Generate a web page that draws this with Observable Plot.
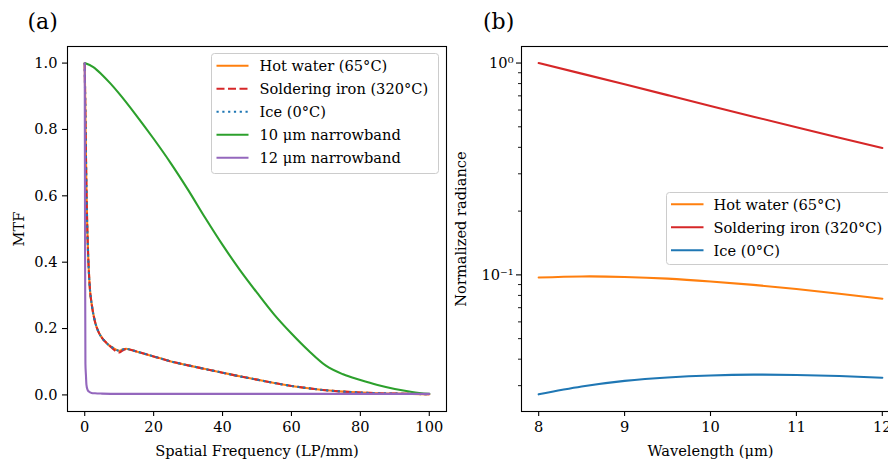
<!DOCTYPE html>
<html><head><meta charset="utf-8">
<script src="https://cdn.jsdelivr.net/npm/d3@7"></script>
<script src="https://cdn.jsdelivr.net/npm/@observablehq/plot@0.6"></script>
<style>
html,body{margin:0;padding:0;background:#fff;overflow:hidden;}
#fig{position:relative;width:888px;height:461px;overflow:hidden;font-family:"DejaVu Serif",serif;}
#fig > svg{position:absolute;top:0;}
#fig text{font-family:"DejaVu Serif",serif;}
</style></head><body><div id="fig"></div>
<script>
// ---------- Data: panel (a) MTF ----------
const freqBroad = [0, 0.25, 0.5, 0.75, 1, 1.5, 2, 3, 4, 5, 6, 7, 8, 9, 10, 11, 12, 13, 15, 20, 25, 30, 35, 40, 45, 50, 55, 60, 65, 70, 75, 80, 85, 90, 95, 100];
const mtfHotWater = [1.000, 0.800, 0.620, 0.500, 0.420, 0.320, 0.275, 0.220, 0.190, 0.172, 0.160, 0.150, 0.143, 0.137, 0.133, 0.137, 0.139, 0.137, 0.131, 0.116, 0.101, 0.089, 0.078, 0.067, 0.056, 0.046, 0.036, 0.027, 0.020, 0.014, 0.010, 0.007, 0.005, 0.004, 0.003, 0.002];
const mtfSoldering = [1.000, 0.800, 0.620, 0.500, 0.420, 0.320, 0.275, 0.220, 0.190, 0.172, 0.160, 0.150, 0.141, 0.132, 0.128, 0.134, 0.138, 0.137, 0.131, 0.116, 0.101, 0.089, 0.078, 0.067, 0.056, 0.046, 0.036, 0.027, 0.020, 0.014, 0.010, 0.007, 0.005, 0.004, 0.003, 0.002];
const mtfIce = [1.000, 0.800, 0.620, 0.500, 0.420, 0.320, 0.275, 0.220, 0.190, 0.172, 0.160, 0.150, 0.143, 0.137, 0.133, 0.137, 0.139, 0.137, 0.131, 0.116, 0.101, 0.089, 0.078, 0.067, 0.056, 0.046, 0.036, 0.027, 0.020, 0.014, 0.010, 0.007, 0.005, 0.004, 0.003, 0.002];
const freqNarrow10 = [0, 2.5, 5, 7.5, 10, 15, 20, 25, 30, 35, 40, 45, 50, 55, 60, 65, 70, 75, 80, 85, 90, 95, 100];
const mtfNarrow10 = [1.000, 0.988, 0.965, 0.938, 0.908, 0.842, 0.772, 0.698, 0.618, 0.533, 0.452, 0.377, 0.308, 0.242, 0.185, 0.133, 0.088, 0.062, 0.045, 0.030, 0.018, 0.009, 0.003];
const freqNarrow12 = [0, 0.1, 0.2, 0.35, 0.5, 0.8, 1.2, 2, 3, 5, 10, 30, 60, 100];
const mtfNarrow12 = [1.000, 0.450, 0.095, 0.060, 0.030, 0.016, 0.010, 0.006, 0.005, 0.004, 0.003, 0.003, 0.003, 0.003];
const mtfXTicks = [0, 20, 40, 60, 80, 100];
const mtfYTicks = [0, 0.2, 0.4, 0.6, 0.8, 1.0];
const mtfNames = ["Hot water (65°C)", "Soldering iron (320°C)", "Ice (0°C)", "10 μm narrowband", "12 μm narrowband"];

// ---------- Data: panel (b) normalized radiance ----------
const wavelength = [8, 8.5, 9, 9.5, 10, 10.5, 11, 11.5, 12];
const radHotWater = [0.0972, 0.0983, 0.0978, 0.0960, 0.0931, 0.0897, 0.0857, 0.0815, 0.0772];
const radSoldering = [1.000, 0.8915, 0.7933, 0.7055, 0.6274, 0.5584, 0.4976, 0.4441, 0.3970];
const radIce = [0.0273, 0.0297, 0.0316, 0.0328, 0.0335, 0.0338, 0.0337, 0.0333, 0.0327];
const radXTicks = [8, 9, 10, 11, 12];
const radYMajor = [0.1, 1];
const radYMajorLabels = ["10⁻¹", "10⁰"];
const radYMinor = [0.03, 0.04, 0.05, 0.06, 0.07, 0.08, 0.09, 0.2, 0.3, 0.4, 0.5, 0.6, 0.7, 0.8, 0.9];
const radNames = ["Hot water (65°C)", "Soldering iron (320°C)", "Ice (0°C)"];

// ---------- Styles ----------
const C = {orange: "#ff7f0e", red: "#d62728", blue: "#1f77b4", green: "#2ca02c", purple: "#9467bd"};
const LW = 2.1;
const DASH = "8,3.5", DOT = "2.2,3.6";
const FONT = '"DejaVu Serif", serif';
const rows = (xs, ys) => xs.map((x, i) => ({x, y: ys[i]}));
const baseStyle = {background: "transparent", fontFamily: FONT, fontSize: "14.6px", color: "#000", overflow: "visible"};

const fig = document.getElementById("fig");

// ---------- Panel (a) ----------
const A = Plot.plot({
  width: 450, height: 461,
  marginLeft: 67, marginRight: 4, marginTop: 46, marginBottom: 50,
  x: {domain: [-5, 105]},
  y: {domain: [-0.05, 1.05]},
  style: baseStyle,
  marks: [
    Plot.line(rows(freqBroad, mtfHotWater), {x: "x", y: "y", stroke: C.orange, strokeWidth: LW, curve: "monotone-x"}),
    Plot.line(rows(freqBroad, mtfSoldering), {x: "x", y: "y", stroke: C.red, strokeWidth: LW, strokeDasharray: DASH, strokeLinecap: "butt", curve: "monotone-x"}),
    Plot.line(rows(freqBroad, mtfIce), {x: "x", y: "y", stroke: C.blue, strokeWidth: LW, strokeDasharray: DOT, strokeLinecap: "butt", curve: "monotone-x"}),
    Plot.line(rows(freqNarrow10, mtfNarrow10), {x: "x", y: "y", stroke: C.green, strokeWidth: LW, curve: "monotone-x"}),
    Plot.line(rows(freqNarrow12, mtfNarrow12), {x: "x", y: "y", stroke: C.purple, strokeWidth: LW, curve: "monotone-x"}),
    Plot.frame({stroke: "#000", strokeWidth: 1.1}),
    Plot.axisX({ticks: mtfXTicks, tickSize: 5, tickPadding: 5, strokeWidth: 1.1, tickFormat: d => String(d),
      label: "Spatial Frequency (LP/mm)", labelAnchor: "center", labelOffset: 44, labelArrow: "none"}),
    Plot.axisY({ticks: mtfYTicks, tickSize: 5, tickPadding: 5, strokeWidth: 1.1, tickFormat: d => d.toFixed(1),
      label: "MTF", labelAnchor: "center", labelOffset: 54, labelArrow: "none"})
  ]
});
A.style.left = "0px";
fig.appendChild(A);

// ---------- Panel (b) ----------
const B = Plot.plot({
  width: 470, height: 461,
  marginLeft: 81, marginRight: 11, marginTop: 46, marginBottom: 50,
  x: {domain: [7.8, 12.2]},
  y: {type: "log", domain: [0.02265, 1.197]},
  style: baseStyle,
  marks: [
    Plot.line(rows(wavelength, radHotWater), {x: "x", y: "y", stroke: C.orange, strokeWidth: LW, curve: "natural"}),
    Plot.line(rows(wavelength, radSoldering), {x: "x", y: "y", stroke: C.red, strokeWidth: LW, curve: "natural"}),
    Plot.line(rows(wavelength, radIce), {x: "x", y: "y", stroke: C.blue, strokeWidth: LW, curve: "natural"}),
    Plot.frame({stroke: "#000", strokeWidth: 1.1}),
    Plot.axisX({ticks: radXTicks, tickSize: 5, tickPadding: 5, strokeWidth: 1.1, tickFormat: d => String(d),
      label: "Wavelength (μm)", labelAnchor: "center", labelOffset: 44, labelArrow: "none"}),
    Plot.axisY({ticks: radYMajor, tickSize: 5, tickPadding: 3, strokeWidth: 1.1,
      tickFormat: d => radYMajorLabels[radYMajor.indexOf(d)],
      label: "Normalized radiance", labelAnchor: "center", labelOffset: 66, labelArrow: "none"}),
    Plot.axisY({ticks: radYMinor, tickSize: 3, strokeWidth: 0.9, fill: "none", label: null})
  ]
});
B.style.left = "440px";
fig.appendChild(B);

// ---------- Overlay: panel labels and legends ----------
const ov = d3.select(fig).append("svg")
  .attr("width", 888).attr("height", 461)
  .attr("font-family", FONT)
  .style("left", "0px");

ov.append("text").attr("x", 27.5).attr("y", 28.8).attr("font-family", FONT).attr("font-size", 22).text("(a)");
ov.append("text").attr("x", 483).attr("y", 28.8).attr("font-family", FONT).attr("font-size", 22).text("(b)");

function legend(g, x, y, w, h, items, lineX0, lineX1, textX, rowY0, rowStep) {
  g.append("rect").attr("x", x).attr("y", y).attr("width", w).attr("height", h)
    .attr("rx", 3).attr("fill", "#fff").attr("fill-opacity", 0.8)
    .attr("stroke", "#ccc").attr("stroke-width", 1);
  items.forEach((it, i) => {
    const cy = rowY0 + i * rowStep;
    g.append("line").attr("x1", lineX0).attr("x2", lineX1).attr("y1", cy).attr("y2", cy)
      .attr("stroke", it.color).attr("stroke-width", LW)
      .attr("stroke-dasharray", it.dash || null);
    g.append("text").attr("x", textX).attr("y", cy + 5.3)
      .attr("font-family", FONT).attr("font-size", 14.6).attr("fill", "#000").text(it.name);
  });
}
legend(ov.append("g"), 211.5, 53.5, 227, 120, [
  {name: mtfNames[0], color: C.orange},
  {name: mtfNames[1], color: C.red, dash: DASH},
  {name: mtfNames[2], color: C.blue, dash: DOT},
  {name: mtfNames[3], color: C.green},
  {name: mtfNames[4], color: C.purple}
], 216.5, 248.5, 259.5, 65.8, 23);
legend(ov.append("g"), 666.5, 192.5, 240, 72, [
  {name: radNames[0], color: C.orange},
  {name: radNames[1], color: C.red},
  {name: radNames[2], color: C.blue}
], 671, 703.5, 713.5, 204.3, 23);
</script></body></html>
